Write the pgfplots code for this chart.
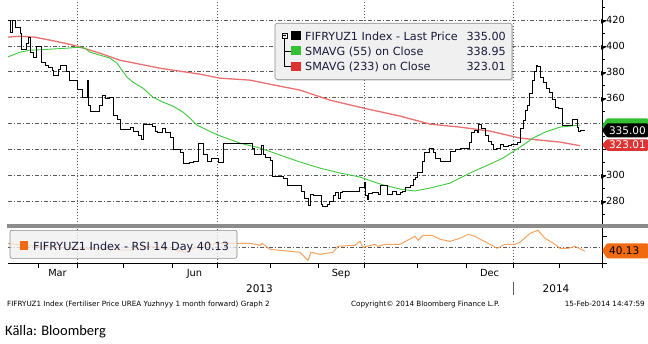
\documentclass[border=0pt]{standalone}
\usepackage{fontspec}
\setmainfont{DejaVu Sans}
\newfontfamily\carlito{Carlito}
\usepackage{pgfplots}
\usepackage{pgfplotstable}
\pgfplotsset{compat=1.18}
\usetikzlibrary{shadows}

\definecolor{bbgreen}{HTML}{3CC83C}
\definecolor{bbgreensq}{HTML}{33C033}
\definecolor{bbred}{HTML}{E87070}
\definecolor{bbredsq}{HTML}{DD3333}
\definecolor{rsiline}{HTML}{F5A35F}
\definecolor{rsisq}{HTML}{F26A10}
\definecolor{gridc}{HTML}{5A5A5A}
\definecolor{band}{HTML}{8C8C8C}
\definecolor{legfill}{HTML}{F0F0F0}
\definecolor{legtext}{HTML}{1A1A3A}

% price (step), x = chart position along the time axis
\pgfplotstableread{
x y
7 420
10 410.7
12 420
15.5 414.6
20 410
21 397.6
26 402.2
28 406.9
30 395.3
33 391.4
36 399.9
41 387.6
45 385.3
48 383.7
52 381.4
53 377.5
58 382.2
60 385.3
66 380.6
69 373.7
77 366.7
82 360.5
87 373.7
88 354.4
90 349.7
99 354.4
102 362.1
105 359.8
109 360.5
113 346.6
117 343.6
120 335.8
130 337.4
133 334.3
138 331.2
141 328.1
143 339.7
152 338.2
155 334.3
157 333.5
162 336.6
165 333.5
170 329.6
173 320.4
180 318.1
183 309.6
189 310.4
193 311.2
198 325.1
203 316.6
207 311.2
211 313.5
218 310.4
223 325.1
252 321.2
254 316.6
261 323.5
263 316.6
265 314.2
270 311.9
272 299.5
283 298.0
287 292.6
301 288.0
304 282.5
308 277.1
310 285.6
313 284.9
321 277.9
322 276.4
327 277.9
329 280.3
333 284.9
335 287.2
338 282.5
340 287.2
342 288.0
359 291.0
364 294.9
365 284.9
367 281.7
368 286.4
372 287.2
378 285.6
380 292.6
387 285.6
392 288.0
396 285.6
400 287.2
402 288.0
405 291.0
410 292.6
413 297.1
415 298.6
417 302.5
422 311.2
424 318.1
429 321.2
433 318.1
435 313.5
440 311.2
450 318.9
455 320.4
460 321.2
469 325.9
471 333.5
474 335.1
477 333.5
478 339.7
481 336.6
485 331.2
488 326.6
491 324.3
493 320.4
496 321.2
500 324.3
503 322.8
508 323.5
511 324.3
517 325.9
520 336.6
523 342.8
525 350.5
527 354.4
529 363.6
532 373.7
534 380.6
536 385.3
537 384.5
540 376.0
543 372.1
546 367.5
549 364.4
552 359.0
555 352.9
558 352.1
562 338.9
572 343.6
577 337.4
578 334.3
580 335.0
585 335.0
}\price

\pgfplotstableread{
x y
7 391.4
20 395.3
30 396.8
50 397.6
67 398.4
78 399.1
85 398.4
90 395.3
100 393.0
110 390.7
117 386.8
122 381.4
127 376.0
133 372.1
143 367.5
153 360.5
163 356.7
173 353.6
183 349.0
190 344.3
197 338.9
207 335.1
218 331.2
240 325.0
260 321.2
280 315.8
300 310.4
320 305.7
340 301.9
360 298.8
380 293.4
400 289.5
415 288.0
430 290.3
450 294.1
470 301.9
490 308.8
503 313.5
520 321.9
533 328.9
545 333.5
560 337.4
580 338.95
}\greenma

\pgfplotstableread{
x y
7 406.9
20 407.6
35 406.9
50 404.6
65 402.2
77 400.0
100 394.5
120 389.1
140 386.0
160 382.9
180 380.6
200 378.3
220 375.2
250 373.7
280 369.0
300 366.0
330 358.2
364 352.0
400 345.9
430 339.7
460 337.4
490 334.3
520 328.9
560 325.8
580 323.01
}\redma

\pgfplotstableread{
x y
7 60
25 55
50 50
80 47.5
110 45
130 42.5
150 52.5
170 45
185 37.5
200 55
220 60
237 60
250 60
260 55
262 60
270 45
290 40
300 37.5
308 17.5
311 37.5
320 32.5
333 37.5
338 52.5
355 55
360 65
363 50
375 57.5
378 52.5
385 57.5
400 57.5
415 77.5
418 67.5
423 80
432 80
440 70
450 65
460 72.5
468 82.5
475 77.5
482 67.5
490 57.5
497 47.5
505 57.5
515 57.5
520 62.5
530 85
538 92.5
545 72.5
555 57.5
560 47.5
568 47.5
575 52.5
585 40.13
}\rsi

\newcommand\legfont{\fontsize{11.2bp}{12bp}\selectfont}
\newcommand\tickfont{\fontsize{9.8bp}{10bp}\selectfont}
\newcommand\footfont{\fontsize{7.2bp}{8bp}\selectfont}

\tikzset{
  vgrid/.style={draw=gridc, line width=1bp, dash pattern=on 1.5bp off 1.5bp},
  hgrid/.style={draw=gridc, line width=1bp, dash pattern=on 3.5bp off 2bp on 1.5bp off 2bp},
}

\begin{document}
\begin{tikzpicture}[x=1bp,y=1bp]
\fill[white] (0,0) rectangle (648,343);

\begin{axis}[
  at={(8bp,118bp)}, anchor=south west, scale only axis,
  width=594bp, height=225bp,
  xmin=8, xmax=602, ymin=261.5, ymax=435.4,
  axis y line*=right, axis x line*=bottom,
  x axis line style={draw=none},
  y axis line style={black, line width=0.6bp},
  xtick=\empty,
  ytick={280,300,360,380,400,420}, minor ytick={270,290,...,430},
  extra y ticks={320,340}, extra y tick labels={},
  ytick align=outside, major tick length=4bp, minor tick length=3bp,
  tick style={black, line width=0.5bp},
  /pgf/number format/assume math mode=true,
  yticklabel={{\fontsize{6.5bp}{7bp}\selectfont\char"25B6}\pgfmathprintnumber{\tick}},
  yticklabel style={font=\tickfont, xshift=-5bp, inner sep=0pt},
]
\pgfplotsinvokeforeach{280,300,320,340,360,380,400,420}{
  \draw[hgrid] (axis cs:8,#1) -- (axis cs:602,#1);}
\pgfplotsinvokeforeach{77.5,217.5,364.5,513.5}{
  \draw[vgrid] (axis cs:#1,261.5) -- (axis cs:#1,435.4);}
\addplot[bbred, line width=1.3bp] table[x=x,y=y]{\redma};
\addplot[bbgreen, line width=0.9bp] table[x=x,y=y]{\greenma};
\addplot[const plot, black, line width=0.9bp] table[x=x,y=y]{\price};
\end{axis}

\begin{axis}[
  at={(8bp,80bp)}, anchor=south west, scale only axis,
  width=594bp, height=36bp,
  xmin=8, xmax=602, ymin=10, ymax=100,
  axis y line*=right, axis x line*=bottom,
  axis line style={black, line width=0.6bp},
  xtick={38,77,123,172,217,270,318,364,417,466,513,559,602},
  xticklabels={Mar,,,Jun,,,Sep,,,Dec,,,},
  x tick label as interval,
  xtick align=outside, ytick align=outside, major tick length=5bp,
  ytick={10,77.5}, yticklabels={},
  tick style={black, line width=0.5bp},
  xticklabel style={font=\tickfont, yshift=2.5bp},
]
\draw[hgrid] (axis cs:8,50) -- (axis cs:602,50);
\pgfplotsinvokeforeach{77.5,217.5,364.5,513.5}{
  \draw[vgrid] (axis cs:#1,10) -- (axis cs:#1,100);}
\addplot[rsiline, line width=1bp] table[x=x,y=y]{\rsi};
\end{axis}

% separator band
\fill[band] (7,115) rectangle (648,119);

% main legend
\draw[gridc!70, fill=legfill, rounded corners=1.5bp, line width=0.6bp,
  drop shadow={shadow xshift=1.2bp, shadow yshift=-1.2bp, opacity=0.35}] (275,264) rectangle (512,320);
\draw[black, line width=0.5bp] (282,305.5) rectangle (287,310.5);
\draw[black, line width=0.5bp] (283,308) -- (286,308);
\draw[black, line width=0.5bp] (284.5,305.5) -- (284.5,277) -- (291,277);
\draw[black, line width=0.5bp] (284.5,292.5) -- (291,292.5);
\fill[black] (291,303) rectangle (301,312);
\fill[bbgreensq] (291,288) rectangle (301,297);
\fill[bbredsq] (291,272.5) rectangle (301,281.5);
\node[anchor=base west, inner sep=0, font=\legfont, text=legtext] at (305,302.5) {FIFRYUZ1 Index - Last Price};
\node[anchor=base west, inner sep=0, font=\legfont, text=legtext] at (305,287.5) {SMAVG (55) on Close};
\node[anchor=base west, inner sep=0, font=\legfont, text=legtext] at (305,272.5) {SMAVG (233) on Close};
\node[anchor=base east, inner sep=0, font=\legfont, text=legtext] at (506,302.5) {335.00};
\node[anchor=base east, inner sep=0, font=\legfont, text=legtext] at (506,287.5) {338.95};
\node[anchor=base east, inner sep=0, font=\legfont, text=legtext] at (506,272.5) {323.01};

% RSI legend
\draw[gridc!70, fill=legfill, fill opacity=0.75, rounded corners=2bp, line width=0.6bp] (10,85) rectangle (237,113);
\fill[rsisq] (20,93) rectangle (28,102);
\node[anchor=base west, inner sep=0, font=\legfont, text=legtext] at (33,93) {FIFRYUZ1 Index - RSI 14 Day 40.13};

% value tags
\fill[bbgreensq, rounded corners=1bp] (602,217.5) -- (607,225) -- (648,225) -- (648,211) -- (607,211) -- cycle;
\fill[black, rounded corners=1bp] (602,213) -- (607,220) -- (648,220) -- (648,206) -- (607,206) -- cycle;
\fill[bbredsq, rounded corners=1bp] (602,198.5) -- (607,204) -- (648,204) -- (648,192.5) -- (607,192.5) -- cycle;
\node[anchor=base east, inner sep=0, font=\fontsize{10.5bp}{11bp}\selectfont, text=white] at (646,208.5) {335.00};
\node[anchor=base east, inner sep=0, font=\fontsize{10.5bp}{11bp}\selectfont, text=white] at (646,194.5) {323.01};
\fill[rsisq, rounded corners=1bp] (602,92.5) -- (607,100) -- (648,100) -- (648,85) -- (607,85) -- cycle;
\node[anchor=base west, inner sep=0, font=\fontsize{10.5bp}{11bp}\selectfont, text=black] at (609,88.5) {40.13};

% years
\node[font=\fontsize{10.5bp}{11bp}\selectfont] at (259.5,55) {2013};
\node[font=\fontsize{10.5bp}{11bp}\selectfont] at (556,55) {2014};
\draw[gridc, line width=0.6bp] (513,61) -- (513,48);

% footer
\node[anchor=base west, inner sep=0, font=\footfont] at (7,36.5) {FIFRYUZ1 Index (Fertiliser Price UREA Yuzhnyy 1 month forward) Graph 2};
\node[anchor=base west, inner sep=0, font=\footfont] at (351,36.5) {Copyright© 2014 Bloomberg Finance L.P.};
\node[anchor=base east, inner sep=0, font=\footfont] at (645,36.5) {15-Feb-2014 14:47:59};
\node[anchor=base west, inner sep=0, font=\carlito\fontsize{14.5bp}{15bp}\selectfont] at (5,8) {Källa: Bloomberg};
\end{tikzpicture}
\end{document}
